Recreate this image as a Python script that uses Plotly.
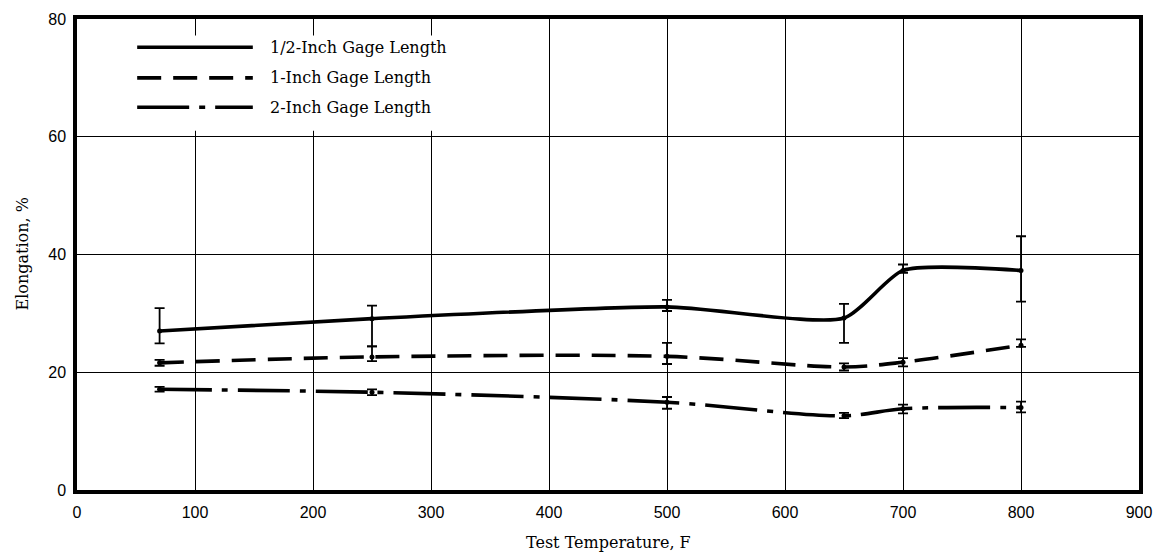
import plotly.graph_objects as go

# Test temperatures (F)
temps = [70, 250, 500, 650, 700, 800]

# 1/2-inch gage length: mean elongation and scatter band (%)
half_mean = [27.0, 29.1, 31.1, 29.2, 37.3, 37.3]
half_hi = [30.9, 31.3, 32.3, 31.6, 38.3, 43.1]
half_lo = [24.9, 24.4, 30.4, 25.0, 36.9, 32.0]

# 1-inch gage length
one_mean = [21.6, 22.6, 22.7, 20.9, 21.7, 24.6]
one_hi = [22.1, 24.4, 25.0, 21.5, 22.4, 25.6]
one_lo = [21.1, 21.9, 21.4, 20.3, 21.0, 24.3]

# 2-inch gage length
two_mean = [17.1, 16.6, 14.9, 12.6, 13.8, 14.0]
two_hi = [17.5, 17.1, 15.8, 13.1, 14.5, 15.0]
two_lo = [16.7, 16.1, 13.8, 12.2, 13.0, 13.2]

series_names = ["1/2-Inch Gage Length", "1-Inch Gage Length", "2-Inch Gage Length"]
dashes = ["solid", "24px,12px", "52px,10px,6px,10px"]
smooth = [0.6, 0.9, 0.9]

x_ticks = [0, 100, 200, 300, 400, 500, 600, 700, 800, 900]
y_ticks = [0, 20, 40, 60, 80]

serif = "DejaVu Serif"
sans = "Liberation Sans"

fig = go.Figure()

groups = [
    (half_mean, half_hi, half_lo),
    (one_mean, one_hi, one_lo),
    (two_mean, two_hi, two_lo),
]

for (mean, hi, lo), dash, name, sm in zip(groups, dashes, series_names, smooth):
    # smooth fitted curve
    fig.add_trace(go.Scatter(
        x=temps, y=mean, mode="lines", name=name,
        line=dict(color="black", width=3.6, dash=dash, shape="spline", smoothing=sm),
        showlegend=False, hoverinfo="skip",
    ))
    # data points with scatter range
    fig.add_trace(go.Scatter(
        x=temps, y=mean, mode="markers",
        marker=dict(color="black", size=5),
        error_y=dict(
            type="data", symmetric=False,
            array=[h - m for h, m in zip(hi, mean)],
            arrayminus=[m - l for m, l in zip(mean, lo)],
            color="black", thickness=1.8, width=5,
        ),
        showlegend=False,
    ))

shapes = [
    # white key panel over the grid
    dict(type="rect", xref="x", yref="y", x0=1, x1=345, y0=61.0, y1=77.2,
         fillcolor="white", line=dict(width=0), layer="above"),
]
annotations = []
key_y = [75.2, 70.0, 65.0]
for name, dash, ky in zip(series_names, dashes, key_y):
    shapes.append(dict(type="line", xref="x", yref="y", x0=51, x1=149, y0=ky, y1=ky,
                       line=dict(color="black", width=3.6, dash=dash), layer="above"))
    annotations.append(dict(x=162, y=ky, xref="x", yref="y", text=name, showarrow=False,
                            xanchor="left", yanchor="middle",
                            font=dict(family=serif, size=16, color="black")))

# axis titles
annotations.append(dict(x=0.5, y=0, xref="paper", yref="paper", text="Test Temperature, F",
                        showarrow=False, xanchor="center", yanchor="middle", yshift=-52,
                        font=dict(family=serif, size=16, color="black")))
annotations.append(dict(x=0, y=0.5, xref="paper", yref="paper", text="Elongation, %",
                        showarrow=False, xanchor="center", yanchor="middle", xshift=-55,
                        textangle=-90, font=dict(family=serif, size=16, color="black")))

fig.update_layout(
    width=1163, height=558,
    margin=dict(l=77, r=24, t=19, b=68),
    paper_bgcolor="white", plot_bgcolor="white",
    shapes=shapes, annotations=annotations,
    showlegend=False,
)

fig.update_xaxes(
    range=[0, 900], tickvals=x_ticks, ticktext=[str(v) for v in x_ticks],
    showgrid=True, gridcolor="black", gridwidth=1.2, zeroline=False,
    showline=True, linecolor="black", linewidth=3.5, mirror=True, automargin=False,
    ticks="", ticklabelstandoff=5, tickfont=dict(family=sans, size=16, color="black"),
)
fig.update_yaxes(
    range=[0, 80], tickvals=y_ticks, ticktext=[str(v) for v in y_ticks],
    showgrid=True, gridcolor="black", gridwidth=1.2, zeroline=False,
    showline=True, linecolor="black", linewidth=3.5, mirror=True, automargin=False,
    ticks="", ticklabelstandoff=4, tickfont=dict(family=sans, size=16, color="black"),
)

fig.write_html("out.html")
